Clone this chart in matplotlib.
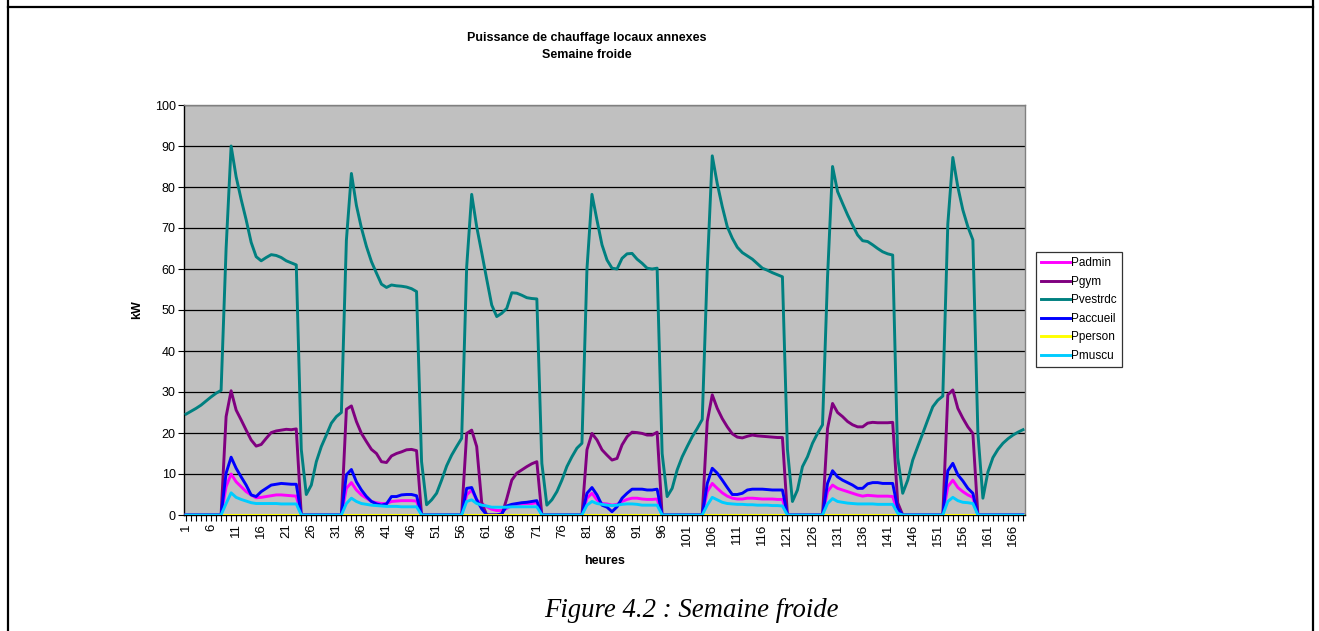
import matplotlib
matplotlib.use("Agg")
import matplotlib.pyplot as plt
from matplotlib.lines import Line2D

hours = list(range(1, 169))
x_labels = list(range(1, 169, 5))
y_ticks = list(range(0, 101, 10))

pvestrdc = [
    24.6, 25.3, 26.0, 26.8, 27.8, 28.8, 29.7, 30.4,
    65, 90, 82.5, 77, 72, 66.5, 63, 62, 62.8, 63.5, 63.3, 62.8, 62, 61.5, 61, 16,
    5, 7.3, 13, 16.7, 19.5, 22.4, 24, 25,
    67, 83.3, 75.5, 70, 65.5, 61.8, 59, 56.3, 55.5, 56.1, 55.9, 55.8, 55.6, 55.2, 54.5, 13,
    2.5, 3.7, 5.3, 8.5, 12, 14.6, 16.7, 18.7,
    60.5, 78.2, 70.3, 64, 57.5, 51.2, 48.4, 49.2, 50.4, 54.2, 54.1, 53.6, 53.0, 52.8, 52.7, 12.6,
    2.4, 3.7, 5.7, 8.5, 11.8, 14.2, 16.3, 17.5,
    60, 78.2, 71.9, 65.9, 62.2, 60.2, 60, 62.6, 63.7, 63.8, 62.4, 61.4, 60.2, 60, 60.2, 15,
    4.5, 6.5, 11, 14.2, 16.7, 19.1, 21.1, 23.3,
    60, 87.6, 80.8, 75.2, 70.3, 67.5, 65.3, 64, 63.2, 62.4, 61.3, 60.2, 59.7, 59.1, 58.6, 58.1, 16,
    3.3, 6.1, 11.8, 14.2, 17.5, 19.9, 22,
    58, 85, 78.9, 76, 73.2, 70.7, 68.3, 66.9, 66.7, 65.9, 65, 64.2, 63.7, 63.4, 14, 5.3,
    8.5, 13.4, 16.7, 19.9, 23.2, 26.4, 28, 29,
    71, 87.2, 80, 74.4, 70.3, 67.1, 20, 4.1,
    10.5, 14, 16, 17.5, 18.6, 19.5, 20.2, 20.8,
]

pgym = [
    0, 0, 0, 0, 0, 0, 0, 0,
    24, 30.3, 25.6, 23.2, 20.7, 18.3, 16.8, 17.2, 18.7, 20.1, 20.5, 20.7, 20.9, 20.8, 21, 0,
    0, 0, 0, 0, 0, 0, 0, 0,
    25.8, 26.6, 22.8, 19.9, 17.9, 16, 15, 13, 12.8, 14.4, 15, 15.4, 15.9, 16, 15.7, 0,
    0, 0, 0, 0, 0, 0, 0, 0,
    19.9, 20.7, 16.7, 3, 0, 0, 0, 0, 4, 8.5, 10.2, 11, 11.8, 12.5, 13, 0,
    0, 0, 0, 0, 0, 0, 0, 0,
    15.9, 19.9, 18.3, 15.9, 14.6, 13.4, 13.8, 17.1, 19.1, 20.2, 20.1, 19.9, 19.5, 19.5, 20.2, 0,
    0, 0, 0, 0, 0, 0, 0, 0,
    22.8, 29.3, 26, 23.5, 21.5, 19.8, 19, 18.8, 19.2, 19.5, 19.3, 19.2, 19.1, 19, 18.9, 18.9, 0,
    0, 0, 0, 0, 0, 0, 0,
    21.1, 27.2, 25, 24, 22.8, 22, 21.5, 21.5, 22.4, 22.6, 22.5, 22.5, 22.5, 22.6, 3, 0,
    0, 0, 0, 0, 0, 0, 0, 0,
    29.3, 30.5, 26, 23.6, 21.5, 19.9, 0, 0,
    0, 0, 0, 0, 0, 0, 0, 0,
]

paccueil = [
    0, 0, 0, 0, 0, 0, 0, 0,
    10.2, 14.1, 11.4, 9.3, 7.3, 4.9, 4.5, 5.7, 6.5, 7.3, 7.5, 7.7, 7.6, 7.5, 7.5, 0,
    0, 0, 0, 0, 0, 0, 0, 0,
    9.8, 11.1, 8.1, 6.1, 4.5, 3.3, 2.7, 2.4, 2.7, 4.5, 4.5, 4.9, 5, 5, 4.7, 0,
    0, 0, 0, 0, 0, 0, 0, 0,
    6.5, 6.7, 3.7, 1.5, 0, 0, 0, 0.3, 2.2, 2.6, 2.8, 3, 3.1, 3.3, 3.5, 0,
    0, 0, 0, 0, 0, 0, 0, 0,
    5.3, 6.7, 4.9, 2.4, 1.9, 0.8, 2, 4.1, 5.3, 6.3, 6.3, 6.3, 6.1, 6.1, 6.3, 0,
    0, 0, 0, 0, 0, 0, 0, 0,
    7.7, 11.4, 10.2, 8.5, 6.7, 5, 5, 5.3, 6.1, 6.3, 6.3, 6.3, 6.2, 6.1, 6.1, 6.1, 0,
    0, 0, 0, 0, 0, 0, 0,
    7.7, 10.8, 9.3, 8.5, 7.9, 7.3, 6.5, 6.5, 7.6, 7.9, 7.9, 7.7, 7.7, 7.7, 1.6, 0,
    0, 0, 0, 0, 0, 0, 0, 0,
    10.8, 12.6, 9.8, 8.3, 6.5, 5.3, 0, 0,
    0, 0, 0, 0, 0, 0, 0, 0,
]

padmin = [
    0, 0, 0, 0, 0, 0, 0, 0,
    6.9, 10, 8.1, 6.9, 5.7, 4.9, 4.2, 4.3, 4.5, 4.7, 4.9, 4.9, 4.8, 4.7, 4.6, 0,
    0, 0, 0, 0, 0, 0, 0, 0,
    6.5, 7.9, 6.1, 4.9, 4.1, 3.3, 3, 2.8, 2.8, 3.3, 3.4, 3.5, 3.5, 3.5, 3.4, 0,
    0, 0, 0, 0, 0, 0, 0, 0,
    4.9, 6.1, 3.7, 2.8, 2, 1.4, 1.1, 1.1, 1.6, 2.4, 2.6, 2.7, 2.8, 2.8, 3, 0,
    0, 0, 0, 0, 0, 0, 0, 0,
    4.1, 5.3, 3.7, 2.8, 2.7, 2.4, 2.6, 3.3, 3.8, 4.1, 4.1, 3.9, 3.8, 3.8, 3.9, 0,
    0, 0, 0, 0, 0, 0, 0, 0,
    5.7, 7.7, 6.5, 5.4, 4.6, 4.1, 3.9, 3.9, 4.1, 4.1, 4, 3.9, 3.9, 3.9, 3.8, 3.8, 0,
    0, 0, 0, 0, 0, 0, 0,
    5.7, 7.3, 6.5, 6.1, 5.7, 5.3, 4.9, 4.6, 4.8, 4.7, 4.6, 4.6, 4.6, 4.5, 0.8, 0,
    0, 0, 0, 0, 0, 0, 0, 0,
    6.9, 8.5, 6.7, 5.7, 4.9, 4.3, 0, 0,
    0, 0, 0, 0, 0, 0, 0, 0,
]

pmuscu = [
    0, 0, 0, 0, 0, 0, 0, 0,
    2.8, 5.4, 4.3, 3.8, 3.4, 3, 2.8, 2.8, 2.8, 2.8, 2.8, 2.7, 2.7, 2.7, 2.7, 0,
    0, 0, 0, 0, 0, 0, 0, 0,
    2.8, 4.1, 3.3, 2.8, 2.6, 2.4, 2.3, 2.2, 2.1, 2.1, 2.1, 2, 2, 2, 2, 0,
    0, 0, 0, 0, 0, 0, 0, 0,
    3.3, 3.7, 2.8, 2.4, 2.2, 1.9, 1.9, 1.9, 1.9, 2, 2, 2, 2, 2, 2, 0,
    0, 0, 0, 0, 0, 0, 0, 0,
    2.4, 3.3, 2.8, 2.6, 2.4, 2.3, 2.4, 2.6, 2.7, 2.7, 2.6, 2.4, 2.4, 2.4, 2.4, 0,
    0, 0, 0, 0, 0, 0, 0, 0,
    2.4, 4.3, 3.7, 3.1, 2.8, 2.7, 2.6, 2.6, 2.5, 2.5, 2.4, 2.4, 2.4, 2.3, 2.3, 2.2, 0,
    0, 0, 0, 0, 0, 0, 0,
    2.8, 4, 3.3, 3.1, 2.9, 2.8, 2.7, 2.7, 2.7, 2.7, 2.6, 2.6, 2.6, 2.6, 0.4, 0,
    0, 0, 0, 0, 0, 0, 0, 0,
    3.3, 4.3, 3.5, 3.1, 3, 2.8, 0, 0,
    0, 0, 0, 0, 0, 0, 0, 0,
]

pperson = [0.0 for _ in hours]

series_names = ["Padmin", "Pgym", "Pvestrdc", "Paccueil", "Pperson", "Pmuscu"]
series_values = [padmin, pgym, pvestrdc, paccueil, pperson, pmuscu]
series_colors = ["#FF00FF", "#800080", "#008080", "#0000FF", "#FFFF00", "#00CCFF"]

plt.rcParams['font.family'] = ['Liberation Sans', 'DejaVu Sans']

W, H = 1319, 631
fig = plt.figure(figsize=(W / 100, H / 100), dpi=100)
fig.patch.set_facecolor('white')

ax = fig.add_axes([184 / W, 1 - 515 / H, (1025 - 184) / W, (515 - 105) / H])
ax.set_facecolor('#C0C0C0')

for name, vals, col in zip(series_names, series_values, series_colors):
    ax.plot(hours, vals, color=col, lw=2.1, label=name, zorder=3)

ax.set_xlim(0.6, 168.4)
ax.set_ylim(0, 100)
ax.set_yticks(y_ticks)
ax.set_yticklabels([str(v) for v in y_ticks], fontsize=9)
ax.set_xticks(x_labels)
ax.set_xticklabels([str(v) for v in x_labels], rotation=90, fontsize=9.5)
ax.set_xticks(hours, minor=True)
ax.tick_params(axis='x', which='both', direction='out', length=4, width=0.8, pad=2)
ax.tick_params(axis='y', direction='out', length=4, width=0.8, pad=2)
ax.yaxis.grid(True, color='black', lw=0.9)
ax.set_axisbelow(True)

for s in ['left', 'bottom']:
    ax.spines[s].set_color('black')
    ax.spines[s].set_linewidth(1.0)
for s in ['top', 'right']:
    ax.spines[s].set_color('#808080')
    ax.spines[s].set_linewidth(1.0)

ax.set_xlabel('heures', fontsize=9, fontweight='bold', labelpad=7)
ax.set_ylabel('kW', fontsize=9, fontweight='bold', labelpad=8)

leg = fig.legend(loc='upper left', bbox_to_anchor=(1036 / W, 1 - 252 / H),
                 fontsize=8.5, frameon=True, fancybox=False, edgecolor='black',
                 handlelength=2.4, handletextpad=0.15, labelspacing=0.55,
                 borderpad=0.45, borderaxespad=0)
leg.get_frame().set_linewidth(0.9)
for line in leg.get_lines():
    line.set_linewidth(2.1)

fig.text(587 / W, 1 - 38 / H, 'Puissance de chauffage locaux annexes',
         ha='center', va='center', fontsize=9, fontweight='bold')
fig.text(587 / W, 1 - 55 / H, 'Semaine froide',
         ha='center', va='center', fontsize=9, fontweight='bold')

fig.text(691 / W, 1 - 617 / H, 'Figure 4.2 : Semaine froide', ha='center',
         va='baseline', fontsize=19.3, style='italic', family='Liberation Serif')

# page frame lines
fig.add_artist(Line2D([7.5 / W, 7.5 / W], [0, 1], color='black', lw=1.6))
fig.add_artist(Line2D([1312.5 / W, 1312.5 / W], [0, 1], color='black', lw=1.6))
fig.add_artist(Line2D([7.5 / W, 1312.5 / W], [1 - 6.7 / H, 1 - 6.7 / H], color='black', lw=1.6))

fig.savefig('out.png', dpi=100, facecolor='white')
